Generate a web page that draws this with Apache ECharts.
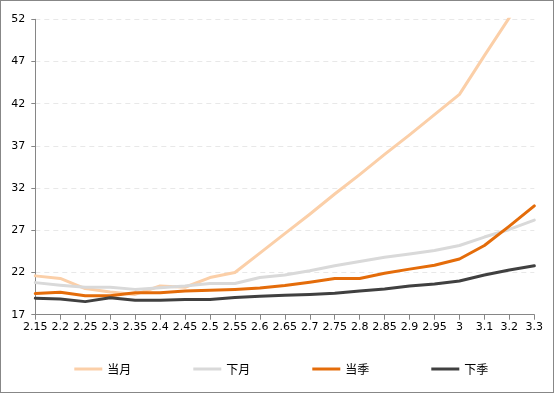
<!DOCTYPE html>
<html>
<head>
<meta charset="utf-8">
<script src="https://cdn.jsdelivr.net/npm/echarts@6/dist/echarts.min.js"></script>
<style>
html,body{margin:0;padding:0;background:#fff;}
#chart{width:554px;height:393px;box-sizing:border-box;border:1px solid #878787;}
</style>
</head>
<body>
<div id="chart"></div>
<script>
var categories = ['2.15','2.2','2.25','2.3','2.35','2.4','2.45','2.5','2.55','2.6','2.65','2.7','2.75','2.8','2.85','2.9','2.95','3','3.1','3.2','3.3'];
var yTicks = [17,22,27,32,37,42,47,52];
var seriesNames = ['当月','下月','当季','下季'];
var dangyue = [21.6,21.3,20.1,19.7,19.4,20.4,20.25,21.4,22.0,24.3,26.6,28.9,31.3,33.6,36.0,38.3,40.7,43.1,47.7,52.2,57];
var xiayue  = [20.8,20.5,20.25,20.25,20.0,20.2,20.4,20.7,20.7,21.4,21.7,22.2,22.8,23.3,23.8,24.2,24.6,25.2,26.2,27.1,28.2];
var dangji  = [19.5,19.65,19.25,19.25,19.6,19.6,19.8,19.9,20.0,20.15,20.45,20.85,21.3,21.3,21.9,22.4,22.85,23.6,25.2,27.5,29.9];
var xiaji   = [18.95,18.85,18.55,19.0,18.7,18.7,18.8,18.8,19.05,19.2,19.3,19.4,19.55,19.8,20.05,20.4,20.65,21.0,21.7,22.3,22.8];
var colors = ['#FBCFA8','#D9D9D9','#E46C0A','#404040'];
var values = [dangyue, xiayue, dangji, xiaji];

var chart = echarts.init(document.getElementById('chart'), null, {renderer:'canvas'});
var series = seriesNames.map(function(n, i){
  return {
    name: n, type: 'line', data: values[i], showSymbol: false, symbol: 'none',
    lineStyle: {width: 3, color: colors[i], cap: 'round', join: 'round'},
    itemStyle: {color: colors[i]},
    clip: true, animation: false, z: 2 + i
  };
});
chart.setOption({
  animation: false,
  color: colors,
  grid: {left: 34.3, right: 18.7, top: 18.3, bottom: 77.3, containLabel: false},
  xAxis: {
    type: 'category', data: categories, boundaryGap: false,
    axisLine: {lineStyle: {color: '#868686', width: 1}},
    axisTick: {show: true, alignWithLabel: true, length: 5, lineStyle: {color: '#868686'}, interval: 0},
    axisLabel: {interval: 0, hideOverlap: false, margin: 7, color: '#000', fontFamily: 'DejaVu Sans', fontSize: 11},
    splitLine: {show: false}
  },
  yAxis: {
    type: 'value', min: 17, max: 52,
    axisLine: {show: true, lineStyle: {color: '#868686', width: 1}},
    axisTick: {show: true, length: 4, lineStyle: {color: '#868686'}, customValues: yTicks},
    axisLabel: {customValues: yTicks, margin: 10, color: '#000', fontFamily: 'DejaVu Sans', fontSize: 11},
    splitLine: {show: true, lineStyle: {color: '#E8E8E8', type: [5, 4], width: 1}}
  },
  legend: {
    data: seriesNames, left: 68.3, top: 357, icon: 'rect', itemWidth: 28, itemHeight: 3, itemGap: 62,
    textStyle: {fontFamily: 'Noto Sans CJK SC', fontSize: 12, color: '#000'}
  },
  series: series
});
</script>
</body>
</html>
